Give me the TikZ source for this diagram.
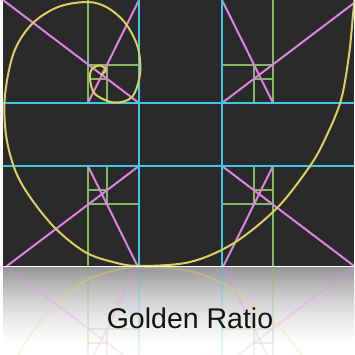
\documentclass[tikz,border=0pt]{standalone}
\usepackage{fontspec}
\setmainfont{Liberation Sans}
\usetikzlibrary{fadings}

\definecolor{panelbg}{RGB}{42,42,42}
\definecolor{gridcyan}{RGB}{62,200,228}
\definecolor{gridgreen}{RGB}{128,186,98}
\definecolor{gridpink}{RGB}{222,130,226}
\definecolor{spiralyellow}{RGB}{220,206,96}
\definecolor{mirrortop}{RGB}{150,150,150}

\tikzfading[name=fadedown, top color=transparent!100, bottom color=transparent!35]

% one quarter of the golden grid, seen from the centre
\newcommand{\goldquad}{%
  \coordinate (corner) at (-177.5,-134.5);
  \coordinate (hub) at (-41.5,-31.5);
  \coordinate (top) at (-41.5,-134.5);
  \coordinate (stem) at (-92.5,-134.5);
  \coordinate (foot) at (-92.5,-31.5);
  \coordinate (midl) at (-92.5,-69.5);
  \coordinate (midr) at (-41.5,-69.5);
  \coordinate (inrt) at (-73.5,-69.5);
  \coordinate (inrb) at (-73.5,-31.5);
  \coordinate (lowl) at (-92.5,-55.5);
  \coordinate (lowr) at (-73.5,-55.5);
  \draw[greenline] (stem) -- (foot);
  \draw[greenline] (midl) -- (midr);
  \draw[greenline] (inrt) -- (inrb);
  \draw[greenline] (lowl) -- (lowr);
  \draw[pinkline] (corner) -- (hub);
  \draw[pinkline] (top) -- (foot);
}

\newcommand{\goldart}{%
  \begin{scope}[shift={(180.5,134.5)}] \goldquad \end{scope}
  \begin{scope}[shift={(180.5,134.5)}, xscale=-1] \goldquad \end{scope}
  \begin{scope}[shift={(180.5,134.5)}, yscale=-1] \goldquad \end{scope}
  \begin{scope}[shift={(180.5,134.5)}, scale=-1] \goldquad \end{scope}
  \coordinate (vla) at (139,-2);
  \coordinate (vlb) at (139,268);
  \coordinate (vra) at (222,-2);
  \coordinate (vrb) at (222,268);
  \coordinate (hta) at (0,103);
  \coordinate (htb) at (356,103);
  \coordinate (hba) at (0,166);
  \coordinate (hbb) at (356,166);
  \draw[cyanline] (vla) -- (vlb);
  \draw[cyanline] (vra) -- (vrb);
  \draw[cyanline] (hta) -- (htb);
  \draw[cyanline] (hba) -- (hbb);
  \draw[spiral] plot[smooth, tension=0.55] coordinates {
    (101,75) (106,70) (100,65.5) (92,69) (90,79) (95,94) (114,102.5)
    (132,97) (140,74) (138,48) (126,24) (108,8) (88,2) (58,7) (32,24)
    (14,52) (5,95) (6,135) (15,170) (30,197) (55,228) (85,252) (113,262)
    (139,266) (190,262) (234,243) (277,208) (310,166) (326,137)
    (341,100) (349,55) (353,15) (355,-5)};
}

\begin{document}
\begin{tikzpicture}[x=1pt, y=-1pt,
    cyanline/.style={draw=gridcyan, line width=2.2pt},
    greenline/.style={draw=gridgreen, line width=2pt},
    pinkline/.style={draw=gridpink, line width=2pt},
    spiral/.style={draw=spiralyellow, line width=2pt, line join=round}]
  \useasboundingbox (0,0) rectangle (354,355);
  \fill[white] (0,0) rectangle (354,355);

  % the dark panel
  \begin{scope}
    \clip (3,0) rectangle (354,266);
    \fill[panelbg] (3,0) rectangle (354,266);
    \goldart
  \end{scope}

  % the mirror below
  \shade[top color=mirrortop, bottom color=white] (3,267) rectangle (354,345);
  \begin{scope}
    \clip (3,267) rectangle (354,355);
    \begin{scope}[shift={(0,533)}, yscale=-1, opacity=0.4]
      \goldart
    \end{scope}
    \fill[white, path fading=fadedown] (3,267) rectangle (354,355);
  \end{scope}
  \draw[white, line width=1pt] (3,266.5) -- (354,266.5);

  \node[anchor=base, font=\fontsize{28.5}{34}\selectfont, text=black!92]
    (title) at (190,328) {Golden Ratio};
\end{tikzpicture}
\end{document}
